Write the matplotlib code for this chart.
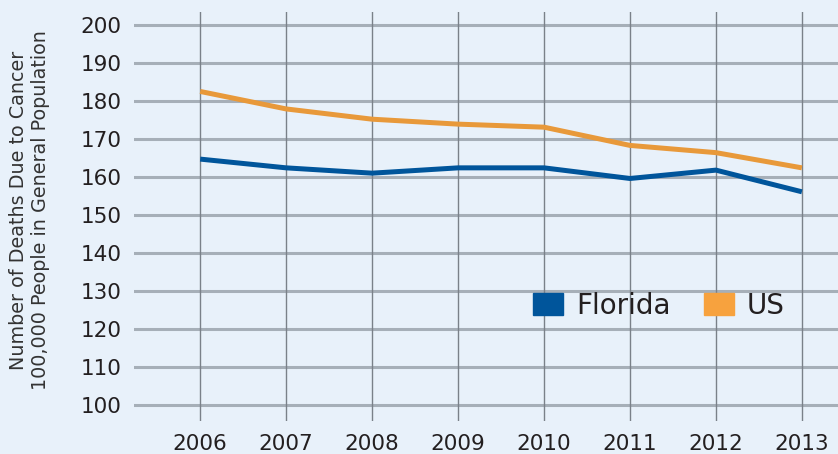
import matplotlib.pyplot as plt
from matplotlib.patches import Patch

years = [2006, 2007, 2008, 2009, 2010, 2011, 2012, 2013]
florida = [164.7, 162.4, 161.0, 162.4, 162.4, 159.6, 161.8, 156.1]
us = [182.5, 177.9, 175.2, 173.9, 173.1, 168.3, 166.4, 162.4]
y_ticks = [100, 110, 120, 130, 140, 150, 160, 170, 180, 190, 200]

bg = '#E8F1FA'
fl_color = '#00559B'
us_color = '#E8993A'
text_color = '#231F20'

plt.rcParams['font.family'] = ['DejaVu Sans']

fig = plt.figure(figsize=(8.38, 4.54), dpi=100, facecolor=bg)
ax = fig.add_axes([134 / 838, 33 / 454, 704 / 838, 409 / 454])
ax.set_facecolor(bg)

# grid lines
for yv in y_ticks:
    ax.axhline(yv, color='#A6AFB8', linewidth=2.2, zorder=1)
for xv in years:
    ax.axvline(xv, color='#7A8189', linewidth=1.0, zorder=1)

ax.plot(years, us, color=us_color, linewidth=3.6, solid_capstyle='butt', zorder=3)
ax.plot(years, florida, color=fl_color, linewidth=3.6, solid_capstyle='butt', zorder=3)

ax.set_xlim(2005.23, 2013.42)
ax.set_ylim(95.8, 203.4)
ax.set_xticks(years)
ax.set_yticks(y_ticks)
ax.tick_params(length=0, labelsize=15.5, colors=text_color)
ax.tick_params(axis='y', pad=9)
ax.tick_params(axis='x', pad=9.5)
for s in ax.spines.values():
    s.set_visible(False)

fig.text(30 / 838, 1 - 210 / 454,
         'Number of Deaths Due to Cancer\n100,000 People in General Population',
         rotation=90, ha='center', va='center', multialignment='center',
         fontsize=13.8, color='#333333', linespacing=1.2)

handles = [Patch(color=fl_color, label='Florida'), Patch(color='#F7A23E', label='US')]
ax.legend(handles=handles, ncol=2, frameon=False, loc='center left',
          bbox_to_anchor=(0.5668, 0.282), borderpad=0, borderaxespad=0,
          fontsize=20, handlelength=1.08, handleheight=0.83, handletextpad=0.47,
          columnspacing=1.2, labelcolor=text_color)

fig.savefig('out.png', dpi=100, facecolor=bg)
